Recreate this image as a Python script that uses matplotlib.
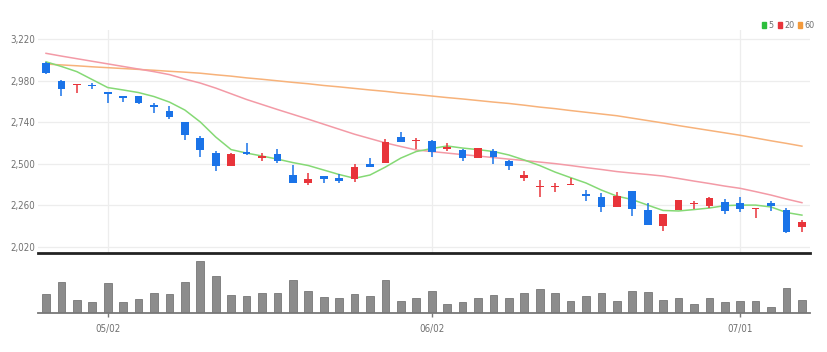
import matplotlib
matplotlib.use("Agg")
import matplotlib.pyplot as plt
from matplotlib.patches import Rectangle
import numpy as np

plt.rcParams['font.family'] = ['DejaVu Sans']
plt.rcParams['font.stretch'] = 'condensed'

# daily candles (price in KRW)
opens = [3081, 2979, 2954, 2955, 2915, 2892, 2892, 2838, 2807, 2741,
         2649, 2560, 2487, 2566, 2531, 2555, 2435, 2390, 2427, 2419,
         2413, 2497, 2506, 2656, 2629, 2633, 2587, 2579, 2535, 2574,
         2518, 2416, 2365, 2365, 2379, 2323, 2309, 2248, 2342, 2232,
         2140, 2232, 2265, 2255, 2280, 2271, 2236, 2271, 2232, 2132]
highs = [3087, 2982, 2962, 2969, 2918, 2894, 2895, 2850, 2834, 2743,
         2660, 2575, 2562, 2618, 2560, 2587, 2493, 2448, 2429, 2441,
         2498, 2535, 2641, 2685, 2647, 2635, 2622, 2585, 2589, 2584,
         2520, 2460, 2406, 2387, 2416, 2348, 2332, 2338, 2344, 2271,
         2207, 2290, 2286, 2306, 2294, 2306, 2242, 2284, 2242, 2175]
lows = [3020, 2892, 2908, 2931, 2850, 2859, 2844, 2795, 2757, 2637,
        2537, 2460, 2487, 2552, 2514, 2502, 2390, 2377, 2390, 2387,
        2396, 2483, 2506, 2626, 2584, 2541, 2575, 2516, 2535, 2498,
        2464, 2402, 2309, 2338, 2379, 2286, 2221, 2248, 2199, 2145,
        2113, 2232, 2240, 2242, 2207, 2219, 2184, 2228, 2098, 2107]
closes = [3023, 2931, 2960, 2951, 2903, 2880, 2853, 2827, 2772, 2668,
          2579, 2487, 2556, 2555, 2547, 2518, 2390, 2410, 2413, 2402,
          2479, 2483, 2628, 2626, 2637, 2570, 2599, 2531, 2589, 2541,
          2487, 2435, 2371, 2371, 2385, 2315, 2248, 2313, 2238, 2145,
          2207, 2290, 2271, 2300, 2228, 2236, 2242, 2255, 2107, 2165]

# moving averages as shown on the chart
ma5 = [3090, 3063, 3033, 2987, 2941, 2927, 2912, 2889, 2857, 2811,
       2742, 2655, 2582, 2562, 2545, 2527, 2507, 2490, 2464, 2438,
       2416, 2435, 2481, 2533, 2571, 2588, 2603, 2591, 2582, 2571,
       2551, 2522, 2490, 2452, 2420, 2389, 2348, 2313, 2293, 2261,
       2230, 2227, 2235, 2244, 2258, 2261, 2261, 2250, 2218, 2203]
ma20 = [3139, 3123, 3108, 3093, 3078, 3063, 3048, 3033, 3016, 2990,
        2967, 2938, 2905, 2872, 2843, 2814, 2786, 2758, 2729, 2700,
        2671, 2646, 2621, 2600, 2580, 2571, 2562, 2553, 2545, 2536,
        2527, 2519, 2510, 2501, 2490, 2478, 2467, 2455, 2446, 2438,
        2429, 2415, 2400, 2386, 2371, 2358, 2339, 2319, 2296, 2275]
ma60 = [3077, 3072, 3067, 3061, 3056, 3051, 3046, 3041, 3035, 3030,
        3024, 3015, 3007, 2997, 2989, 2980, 2971, 2963, 2953, 2945,
        2936, 2927, 2919, 2909, 2901, 2892, 2883, 2875, 2866, 2857,
        2849, 2839, 2828, 2819, 2808, 2798, 2788, 2778, 2764, 2750,
        2736, 2721, 2707, 2693, 2679, 2665, 2649, 2633, 2618, 2602]

volumes = [184, 310, 127, 110, 294, 104, 134, 200, 184, 304,
           520, 370, 177, 167, 194, 194, 327, 217, 160, 150,
           184, 167, 327, 117, 150, 217, 84, 104, 150, 177,
           144, 200, 234, 194, 117, 167, 194, 117, 217, 210,
           127, 144, 84, 144, 110, 117, 117, 54, 244, 127]

date_ticks = [4, 25, 45]
date_labels = ["05/02", "06/02", "07/01"]
price_ticks = [2020, 2260, 2500, 2740, 2980, 3220]
ma_labels = ["5", "20", "60"]
ma_colors = ["#2DBE3C", "#E8343A", "#F39A3C"]

UP = "#E8343A"
DOWN = "#1A73E8"
TXT = "#707070"

x = np.arange(len(closes))
o = np.array(opens); c = np.array(closes)
colors = [UP if cc >= oo else DOWN for oo, cc in zip(o, c)]
body_bottom = np.minimum(o, c)
body_h = np.maximum(np.abs(c - o), 5)

fig = plt.figure(figsize=(8.27, 3.52), dpi=100)
ax = fig.add_axes([0.0463, 0.2813, 0.9327, 0.6335])
axv = fig.add_axes([0.0463, 0.1116, 0.9327, 0.164], sharex=ax)

# price panel
ax.set_ylim(1984, 3274)
ax.set_xlim(-0.5, len(closes) - 0.5)
ax.set_yticks(price_ticks)
ax.set_yticklabels([f"{p:,}" for p in price_ticks])
ax.set_xticks(date_ticks)
ax.grid(True, color="#EDEDED", lw=0.9)
ax.set_axisbelow(True)
for s in ["top", "right", "left"]:
    ax.spines[s].set_visible(False)
ax.spines["bottom"].set_color("#222222")
ax.spines["bottom"].set_linewidth(2)
ax.tick_params(axis="y", length=0, pad=2, labelsize=7, labelcolor=TXT)
ax.tick_params(axis="x", length=0, labelbottom=False)

ax.plot(x, ma60, color="#F7B27A", lw=1.1, zorder=2)
ax.plot(x, ma20, color="#F39AA6", lw=1.1, zorder=2)
ax.plot(x, ma5, color="#85D975", lw=1.1, zorder=2)

ax.vlines(x, lows, highs, colors=colors, lw=1.1, zorder=3)
ax.bar(x, body_h, bottom=body_bottom, width=0.5, color=colors, zorder=4)

# volume panel
axv.bar(x, volumes, width=0.5, color="#8C8C8C", edgecolor="#777777", lw=0.6)
axv.set_ylim(0, 577)
axv.set_yticks([])
for s in ["top", "right", "left"]:
    axv.spines[s].set_visible(False)
axv.spines["bottom"].set_color("#777777")
axv.spines["bottom"].set_linewidth(1.3)
axv.set_xticks(date_ticks)
axv.set_xticklabels(date_labels)
axv.tick_params(axis="x", length=3, width=1, color="#777777", pad=5,
                labelsize=7, labelcolor=TXT)

# legend (pixel layout, top right)
W, H = 827, 352
lx = 762
for lab, col in zip(ma_labels, ma_colors):
    fig.patches.append(Rectangle((lx / W, 1 - 28 / H), 4 / W, 6 / H,
                                 transform=fig.transFigure, color=col))
    fig.text((lx + 6) / W, 1 - 25 / H, lab, color=TXT, fontsize=6.5,
             ha="left", va="center")
    lx += 6 + 4 * len(lab) + 6

fig.savefig("out.png", dpi=100)
